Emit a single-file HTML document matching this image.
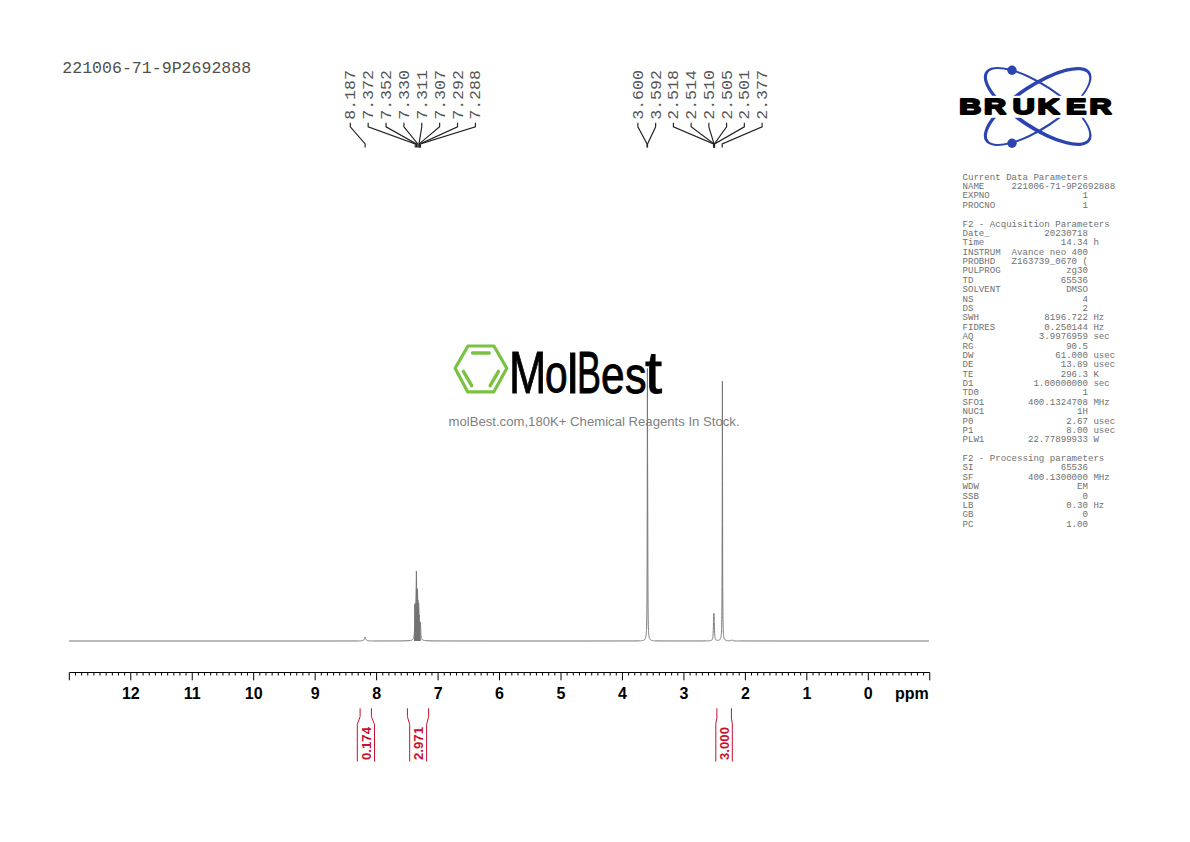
<!DOCTYPE html>
<html><head><meta charset="utf-8"><title>221006-71-9P2692888</title>
<style>
html,body{margin:0;padding:0;background:#fff;width:1190px;height:842px;overflow:hidden}
svg{display:block;position:absolute;left:0;top:0}
.mono{font-family:"Liberation Mono","DejaVu Sans Mono",monospace}
.sans{font-family:"Liberation Sans",Arial,sans-serif}
.mb{position:absolute;left:0;top:0;font-family:"Liberation Sans",Arial,sans-serif;color:#000;white-space:nowrap}
.mb span{position:absolute;display:block;line-height:1;transform-origin:0 0;-webkit-text-stroke:0.9px #000}
</style></head><body>
<svg width="1190" height="842" viewBox="0 0 1190 842">

<text class="mono" x="62.3" y="72.6" font-size="16.57" fill="#505050">221006-71-9P2692888</text>
<text class="mono" transform="translate(355.30,119.8) rotate(-90) scale(1,0.91)" font-size="16.6" fill="#555">8.187</text>
<path d="M350.30 122.7V126.8L365.13 143.9V147.4" fill="none" stroke="#222" stroke-width="1.15"/>
<text class="mono" transform="translate(373.17,119.8) rotate(-90) scale(1,0.91)" font-size="16.6" fill="#555">7.372</text>
<path d="M368.17 122.7V126.8L415.22 143.9V147.4" fill="none" stroke="#222" stroke-width="1.15"/>
<text class="mono" transform="translate(391.04,119.8) rotate(-90) scale(1,0.91)" font-size="16.6" fill="#555">7.352</text>
<path d="M386.04 122.7V126.8L416.45 143.9V147.4" fill="none" stroke="#222" stroke-width="1.15"/>
<text class="mono" transform="translate(408.91,119.8) rotate(-90) scale(1,0.91)" font-size="16.6" fill="#555">7.330</text>
<path d="M403.91 122.7V126.8L417.80 143.9V147.4" fill="none" stroke="#222" stroke-width="1.15"/>
<text class="mono" transform="translate(426.78,119.8) rotate(-90) scale(1,0.91)" font-size="16.6" fill="#555">7.311</text>
<path d="M421.78 122.7V126.8L418.97 143.9V147.4" fill="none" stroke="#222" stroke-width="1.15"/>
<text class="mono" transform="translate(444.65,119.8) rotate(-90) scale(1,0.91)" font-size="16.6" fill="#555">7.307</text>
<path d="M439.65 122.7V126.8L419.21 143.9V147.4" fill="none" stroke="#222" stroke-width="1.15"/>
<text class="mono" transform="translate(462.52,119.8) rotate(-90) scale(1,0.91)" font-size="16.6" fill="#555">7.292</text>
<path d="M457.52 122.7V126.8L420.13 143.9V147.4" fill="none" stroke="#222" stroke-width="1.15"/>
<text class="mono" transform="translate(480.39,119.8) rotate(-90) scale(1,0.91)" font-size="16.6" fill="#555">7.288</text>
<path d="M475.39 122.7V126.8L420.38 143.9V147.4" fill="none" stroke="#222" stroke-width="1.15"/>
<text class="mono" transform="translate(642.90,119.8) rotate(-90) scale(1,0.91)" font-size="16.6" fill="#555">3.600</text>
<path d="M637.90 122.7V126.8L647.04 143.9V147.4" fill="none" stroke="#222" stroke-width="1.15"/>
<text class="mono" transform="translate(660.64,119.8) rotate(-90) scale(1,0.91)" font-size="16.6" fill="#555">3.592</text>
<path d="M655.64 122.7V126.8L647.54 143.9V147.4" fill="none" stroke="#222" stroke-width="1.15"/>
<text class="mono" transform="translate(678.38,119.8) rotate(-90) scale(1,0.91)" font-size="16.6" fill="#555">2.518</text>
<path d="M673.38 122.7V126.8L713.54 143.9V147.4" fill="none" stroke="#222" stroke-width="1.15"/>
<text class="mono" transform="translate(696.12,119.8) rotate(-90) scale(1,0.91)" font-size="16.6" fill="#555">2.514</text>
<path d="M691.12 122.7V126.8L713.79 143.9V147.4" fill="none" stroke="#222" stroke-width="1.15"/>
<text class="mono" transform="translate(713.86,119.8) rotate(-90) scale(1,0.91)" font-size="16.6" fill="#555">2.510</text>
<path d="M708.86 122.7V126.8L714.04 143.9V147.4" fill="none" stroke="#222" stroke-width="1.15"/>
<text class="mono" transform="translate(731.60,119.8) rotate(-90) scale(1,0.91)" font-size="16.6" fill="#555">2.505</text>
<path d="M726.60 122.7V126.8L714.34 143.9V147.4" fill="none" stroke="#222" stroke-width="1.15"/>
<text class="mono" transform="translate(749.34,119.8) rotate(-90) scale(1,0.91)" font-size="16.6" fill="#555">2.501</text>
<path d="M744.34 122.7V126.8L714.59 143.9V147.4" fill="none" stroke="#222" stroke-width="1.15"/>
<text class="mono" transform="translate(767.08,119.8) rotate(-90) scale(1,0.91)" font-size="16.6" fill="#555">2.377</text>
<path d="M762.08 122.7V126.8L722.21 143.9V147.4" fill="none" stroke="#222" stroke-width="1.15"/>
<polygon points="414.0,641 414.3,604 415.6,603 415.9,588.5 416.2,571.2 416.6,571.2 416.9,588 418.0,589 418.3,603.1 419.1,603.5 419.4,622 420.4,622.2 420.8,641" fill="#737373"/>
<polyline points="69.00,641.00 73.00,641.00 77.00,641.00 81.00,641.00 85.00,641.00 89.00,641.00 93.00,641.00 97.00,641.00 101.00,641.00 105.00,641.00 109.00,641.00 113.00,641.00 117.00,641.00 121.00,641.00 125.00,641.00 129.00,641.00 133.00,641.00 137.00,641.00 141.00,641.00 145.00,641.00 149.00,641.00 153.00,641.00 157.00,641.00 161.00,641.00 165.00,641.00 169.00,641.00 173.00,641.00 177.00,641.00 181.00,641.00 185.00,641.00 189.00,641.00 193.00,641.00 197.00,641.00 201.00,641.00 205.00,641.00 209.00,641.00 213.00,641.00 217.00,641.00 221.00,641.00 225.00,641.00 229.00,641.00 233.00,641.00 237.00,641.00 241.00,641.00 245.00,641.00 249.00,641.00 253.00,641.00 257.00,641.00 261.00,641.00 265.00,641.00 269.00,641.00 273.00,641.00 277.00,641.00 281.00,641.00 285.00,641.00 289.00,641.00 293.00,641.00 297.00,641.00 301.00,641.00 305.00,641.00 309.00,641.00 313.00,641.00 317.00,641.00 321.00,641.00 325.00,641.00 329.00,641.00 333.00,640.99 337.00,640.99 341.00,640.99 345.00,640.99 349.00,640.99 353.00,640.98 357.00,640.96 357.50,640.96 357.55,640.96 357.60,640.96 357.65,640.96 357.70,640.96 357.75,640.95 357.80,640.95 357.85,640.95 357.90,640.95 357.95,640.95 358.00,640.95 358.05,640.95 358.10,640.95 358.15,640.95 358.20,640.95 358.25,640.95 358.30,640.95 358.35,640.95 358.40,640.95 358.45,640.95 358.50,640.95 358.55,640.94 358.60,640.94 358.65,640.94 358.70,640.94 358.75,640.94 358.80,640.94 358.85,640.94 358.90,640.94 358.95,640.94 359.00,640.94 359.05,640.94 359.10,640.94 359.15,640.93 359.20,640.93 359.25,640.93 359.30,640.93 359.35,640.93 359.40,640.93 359.45,640.93 359.50,640.93 359.55,640.93 359.60,640.92 359.65,640.92 359.70,640.92 359.75,640.92 359.80,640.92 359.85,640.92 359.90,640.92 359.95,640.91 360.00,640.91 360.05,640.91 360.10,640.91 360.15,640.91 360.20,640.91 360.25,640.90 360.30,640.90 360.35,640.90 360.40,640.90 360.45,640.90 360.50,640.89 360.55,640.89 360.60,640.89 360.65,640.89 360.70,640.89 360.75,640.88 360.80,640.88 360.85,640.88 360.90,640.88 360.95,640.87 361.00,640.87 361.05,640.87 361.10,640.86 361.15,640.86 361.20,640.86 361.25,640.85 361.30,640.85 361.35,640.85 361.40,640.84 361.45,640.84 361.50,640.83 361.55,640.83 361.60,640.82 361.65,640.82 361.70,640.81 361.75,640.81 361.80,640.80 361.85,640.80 361.90,640.79 361.95,640.79 362.00,640.78 362.05,640.77 362.10,640.77 362.15,640.76 362.20,640.75 362.25,640.74 362.30,640.73 362.35,640.72 362.40,640.72 362.45,640.71 362.50,640.69 362.55,640.68 362.60,640.67 362.65,640.66 362.70,640.65 362.75,640.63 362.80,640.62 362.85,640.60 362.90,640.59 362.95,640.57 363.00,640.55 363.05,640.53 363.10,640.51 363.15,640.48 363.20,640.46 363.25,640.43 363.30,640.41 363.35,640.38 363.40,640.34 363.45,640.31 363.50,640.27 363.55,640.23 363.60,640.19 363.65,640.14 363.70,640.09 363.75,640.04 363.80,639.98 363.85,639.91 363.90,639.84 363.95,639.76 364.00,639.68 364.05,639.59 364.10,639.49 364.15,639.39 364.20,639.27 364.25,639.15 364.30,639.01 364.35,638.87 364.40,638.71 364.45,638.55 364.50,638.38 364.55,638.20 364.60,638.02 364.65,637.83 364.70,637.66 364.75,637.49 364.80,637.34 364.85,637.21 364.90,637.10 364.95,637.03 365.00,637.00 365.05,637.00 365.10,637.04 365.15,637.12 365.20,637.22 365.25,637.34 365.30,637.47 365.35,637.62 365.40,637.77 365.45,637.92 365.50,638.06 365.55,638.20 365.60,638.33 365.65,638.46 365.70,638.58 365.75,638.69 365.80,638.80 365.85,638.90 365.90,639.00 365.95,639.10 366.00,639.19 366.05,639.29 366.10,639.38 366.15,639.47 366.20,639.55 366.25,639.64 366.30,639.71 366.35,639.79 366.40,639.86 366.45,639.93 366.50,639.99 366.55,640.05 366.60,640.10 366.65,640.15 366.70,640.20 366.75,640.24 366.80,640.28 366.85,640.32 366.90,640.35 366.95,640.39 367.00,640.42 367.05,640.44 367.10,640.47 367.15,640.49 367.20,640.52 367.25,640.54 367.30,640.56 367.35,640.58 367.40,640.59 367.45,640.61 367.50,640.63 367.55,640.64 367.60,640.65 367.65,640.67 367.70,640.68 367.75,640.69 367.80,640.70 367.85,640.71 367.90,640.72 367.95,640.73 368.00,640.74 368.05,640.75 368.10,640.76 368.15,640.76 368.20,640.77 368.25,640.78 368.30,640.78 368.35,640.79 368.40,640.80 368.45,640.80 368.50,640.81 368.55,640.81 368.60,640.82 368.65,640.82 368.70,640.83 368.75,640.83 368.80,640.84 368.85,640.84 368.90,640.84 368.95,640.85 369.00,640.85 369.05,640.85 369.10,640.86 369.15,640.86 369.20,640.86 369.25,640.87 369.30,640.87 369.35,640.87 369.40,640.88 369.45,640.88 369.50,640.88 369.55,640.88 369.60,640.89 369.65,640.89 369.70,640.89 369.75,640.89 369.80,640.89 369.85,640.90 369.90,640.90 369.95,640.90 370.00,640.90 370.05,640.90 370.10,640.90 370.15,640.91 370.20,640.91 370.25,640.91 370.30,640.91 370.35,640.91 370.40,640.91 370.45,640.92 370.50,640.92 370.55,640.92 370.60,640.92 370.65,640.92 370.70,640.92 370.75,640.92 370.80,640.92 370.85,640.93 370.90,640.93 370.95,640.93 371.00,640.93 371.05,640.93 371.10,640.93 371.15,640.93 371.20,640.93 371.25,640.93 371.30,640.93 371.35,640.93 371.40,640.94 371.45,640.94 371.50,640.94 371.55,640.94 371.60,640.94 371.65,640.94 371.70,640.94 371.75,640.94 371.80,640.94 371.85,640.94 371.90,640.94 371.95,640.94 372.00,640.94 372.05,640.95 372.10,640.95 372.15,640.95 372.20,640.95 372.25,640.95 372.30,640.95 372.35,640.95 372.40,640.95 372.45,640.95 372.50,640.95 372.55,640.95 372.60,640.95 372.65,640.95 372.70,640.95 372.75,640.95 372.80,640.95 372.85,640.95 372.90,640.95 372.95,640.95 373.00,640.95 373.05,640.96 373.10,640.96 373.15,640.96 373.20,640.96 373.25,640.96 373.30,640.96 373.35,640.96 373.40,640.96 373.45,640.96 377.00,640.97 381.00,640.97 385.00,640.97 389.00,640.97 393.00,640.96 397.00,640.94 401.00,640.91 405.00,640.85 409.00,640.65 410.00,640.54 410.05,640.53 410.10,640.52 410.15,640.51 410.20,640.51 410.25,640.50 410.30,640.49 410.35,640.48 410.40,640.47 410.45,640.46 410.50,640.45 410.55,640.44 410.60,640.43 410.65,640.42 410.70,640.41 410.75,640.40 410.80,640.39 410.85,640.38 410.90,640.37 410.95,640.36 411.00,640.35 411.05,640.33 411.10,640.32 411.15,640.31 411.20,640.29 411.25,640.28 411.30,640.26 411.35,640.25 411.40,640.23 411.45,640.22 411.50,640.20 411.55,640.18 411.60,640.17 411.65,640.15 411.70,640.13 411.75,640.11 411.80,640.09 411.85,640.07 411.90,640.04 411.95,640.02 412.00,640.00 412.05,639.97 412.10,639.95 412.15,639.92 412.20,639.89 412.25,639.86 412.30,639.83 412.35,639.80 412.40,639.77 412.45,639.73 412.50,639.69 412.55,639.66 412.60,639.62 412.65,639.57 412.70,639.53 412.75,639.48 412.80,639.43 412.85,639.38 412.90,639.33 412.95,639.27 413.00,639.21 413.05,639.14 413.10,639.07 413.15,639.00 413.20,638.92 413.25,638.84 413.30,638.75 413.35,638.66 413.40,638.56 413.45,638.45 413.50,638.33 413.55,638.20 413.60,638.06 413.65,637.91 413.70,637.75 413.75,637.57 413.80,637.38 413.85,637.16 413.90,636.93 413.95,636.66 414.00,636.37 414.05,636.04 414.10,635.67 414.15,635.25 414.20,634.77 414.25,634.23 414.30,633.60 414.35,632.86 414.40,632.00 414.45,630.99 414.50,629.79 414.55,628.35 414.60,626.63 414.65,624.56 414.70,622.10 414.75,619.22 414.80,615.95 414.85,612.47 414.90,609.14 414.95,606.48 415.00,605.00 415.05,604.90 415.10,605.94 415.15,607.54 415.20,609.14 415.25,610.30 415.30,610.82 415.35,610.63 415.40,609.77 415.45,608.41 415.50,606.88 415.55,605.60 415.60,605.00 415.65,605.26 415.70,606.20 415.75,607.41 415.80,608.46 415.85,609.03 415.90,608.92 415.95,608.01 416.00,606.22 416.05,603.48 416.10,599.71 416.15,594.91 416.20,589.22 416.25,583.04 416.30,577.16 416.35,572.77 416.40,571.00 416.45,572.32 416.50,576.25 416.55,581.62 416.60,587.28 416.65,592.38 416.70,596.50 416.75,599.49 416.80,601.33 416.85,602.05 416.90,601.70 416.95,600.35 417.00,598.16 417.05,595.41 417.10,592.65 417.15,590.61 417.20,590.00 417.25,591.13 417.30,593.72 417.35,597.05 417.40,600.40 417.45,603.27 417.50,605.38 417.55,606.61 417.60,606.96 417.65,606.46 417.70,605.23 417.75,603.50 417.80,601.69 417.85,600.34 417.90,600.00 417.95,600.90 418.00,602.81 418.05,605.23 418.10,607.60 418.15,609.54 418.20,610.84 418.25,611.40 418.30,611.21 418.35,610.28 418.40,608.72 418.45,606.75 418.50,604.77 418.55,603.34 418.60,603.00 418.65,603.98 418.70,606.07 418.75,608.74 418.80,611.45 418.85,613.83 418.90,615.67 418.95,616.91 419.00,617.53 419.05,617.57 419.10,617.13 419.15,616.34 419.20,615.49 419.25,614.93 419.30,615.00 419.35,615.86 419.40,617.39 419.45,619.27 419.50,621.17 419.55,622.87 419.60,624.25 419.65,625.26 419.70,625.92 419.75,626.21 419.80,626.17 419.85,625.80 419.90,625.14 419.95,624.27 420.00,623.33 420.05,622.51 420.10,622.00 420.15,621.87 420.20,622.03 420.25,622.27 420.30,622.43 420.35,622.44 420.40,622.40 420.45,622.51 420.50,623.00 420.55,623.99 420.60,625.40 420.65,627.03 420.70,628.68 420.75,630.20 420.80,631.54 420.85,632.69 420.90,633.65 420.95,634.45 421.00,635.13 421.05,635.70 421.10,636.18 421.15,636.59 421.20,636.95 421.25,637.25 421.30,637.52 421.35,637.76 421.40,637.97 421.45,638.15 421.50,638.32 421.55,638.46 421.60,638.60 421.65,638.72 421.70,638.83 421.75,638.93 421.80,639.03 421.85,639.11 421.90,639.19 421.95,639.27 422.00,639.33 422.05,639.40 422.10,639.46 422.15,639.51 422.20,639.56 422.25,639.61 422.30,639.66 422.35,639.70 422.40,639.74 422.45,639.78 422.50,639.82 422.55,639.85 422.60,639.89 422.65,639.92 422.70,639.95 422.75,639.98 422.80,640.00 422.85,640.03 422.90,640.06 422.95,640.08 423.00,640.10 423.05,640.12 423.10,640.14 423.15,640.16 423.20,640.18 423.25,640.20 423.30,640.22 423.35,640.24 423.40,640.25 423.45,640.27 423.50,640.29 423.55,640.30 423.60,640.32 423.65,640.33 423.70,640.34 423.75,640.36 423.80,640.37 423.85,640.38 423.90,640.39 423.95,640.40 424.00,640.41 424.05,640.43 424.10,640.44 424.15,640.45 424.20,640.46 424.25,640.47 424.30,640.47 424.35,640.48 424.40,640.49 424.45,640.50 424.50,640.51 424.55,640.52 424.60,640.53 424.65,640.53 424.70,640.54 424.75,640.55 424.80,640.56 424.85,640.56 424.90,640.57 424.95,640.58 425.00,640.58 425.05,640.59 425.10,640.59 425.15,640.60 425.20,640.61 425.25,640.61 425.30,640.62 425.35,640.62 425.40,640.63 425.45,640.63 425.50,640.64 425.55,640.64 425.60,640.65 425.65,640.65 425.70,640.66 425.75,640.66 425.80,640.67 425.85,640.67 425.90,640.68 425.95,640.68 429.00,640.83 433.00,640.91 437.00,640.94 441.00,640.96 445.00,640.97 449.00,640.98 453.00,640.98 457.00,640.99 461.00,640.99 465.00,640.99 469.00,640.99 473.00,640.99 477.00,640.99 481.00,640.99 485.00,640.99 489.00,641.00 493.00,641.00 497.00,641.00 501.00,641.00 505.00,641.00 509.00,641.00 513.00,641.00 517.00,641.00 521.00,641.00 525.00,641.00 529.00,641.00 533.00,641.00 537.00,641.00 541.00,641.00 545.00,641.00 549.00,641.00 553.00,641.00 557.00,641.00 561.00,641.00 565.00,641.00 569.00,641.00 573.00,641.00 577.00,641.00 581.00,641.00 585.00,641.00 589.00,641.00 593.00,640.99 597.00,640.99 601.00,640.99 605.00,640.99 609.00,640.99 613.00,640.99 617.00,640.99 621.00,640.98 625.00,640.98 629.00,640.97 633.00,640.95 637.00,640.90 639.30,640.84 639.35,640.83 639.40,640.83 639.45,640.83 639.50,640.83 639.55,640.83 639.60,640.82 639.65,640.82 639.70,640.82 639.75,640.82 639.80,640.81 639.85,640.81 639.90,640.81 639.95,640.81 640.00,640.80 640.05,640.80 640.10,640.80 640.15,640.80 640.20,640.79 640.25,640.79 640.30,640.79 640.35,640.78 640.40,640.78 640.45,640.78 640.50,640.78 640.55,640.77 640.60,640.77 640.65,640.77 640.70,640.76 640.75,640.76 640.80,640.75 640.85,640.75 640.90,640.75 640.95,640.74 641.00,640.74 641.05,640.74 641.10,640.73 641.15,640.73 641.20,640.72 641.25,640.72 641.30,640.71 641.35,640.71 641.40,640.70 641.45,640.70 641.50,640.69 641.55,640.69 641.60,640.68 641.65,640.68 641.70,640.67 641.75,640.67 641.80,640.66 641.85,640.66 641.90,640.65 641.95,640.64 642.00,640.64 642.05,640.63 642.10,640.62 642.15,640.62 642.20,640.61 642.25,640.60 642.30,640.59 642.35,640.59 642.40,640.58 642.45,640.57 642.50,640.56 642.55,640.55 642.60,640.54 642.65,640.53 642.70,640.52 642.75,640.51 642.80,640.50 642.85,640.49 642.90,640.48 642.95,640.47 643.00,640.46 643.05,640.44 643.10,640.43 643.15,640.42 643.20,640.40 643.25,640.39 643.30,640.38 643.35,640.36 643.40,640.35 643.45,640.33 643.50,640.31 643.55,640.29 643.60,640.28 643.65,640.26 643.70,640.24 643.75,640.22 643.80,640.20 643.85,640.17 643.90,640.15 643.95,640.13 644.00,640.10 644.05,640.07 644.10,640.05 644.15,640.02 644.20,639.99 644.25,639.96 644.30,639.92 644.35,639.89 644.40,639.85 644.45,639.81 644.50,639.77 644.55,639.73 644.60,639.69 644.65,639.64 644.70,639.59 644.75,639.54 644.80,639.48 644.85,639.42 644.90,639.36 644.95,639.30 645.00,639.23 645.05,639.15 645.10,639.07 645.15,638.99 645.20,638.90 645.25,638.81 645.30,638.70 645.35,638.59 645.40,638.48 645.45,638.35 645.50,638.21 645.55,638.07 645.60,637.91 645.65,637.74 645.70,637.55 645.75,637.35 645.80,637.12 645.85,636.88 645.90,636.61 645.95,636.32 646.00,636.00 646.05,635.64 646.10,635.24 646.15,634.80 646.20,634.30 646.25,633.74 646.30,633.11 646.35,632.39 646.40,631.57 646.45,630.62 646.50,629.53 646.55,628.25 646.60,626.75 646.65,624.97 646.70,622.84 646.75,620.27 646.80,617.11 646.85,613.18 646.90,608.24 646.95,601.91 647.00,593.65 647.05,582.67 647.10,567.82 647.15,547.43 647.20,519.36 647.25,481.71 647.30,435.60 647.35,391.08 647.40,368.50 647.45,380.01 647.50,412.23 647.55,443.84 647.60,464.99 647.65,477.80 647.70,491.00 647.75,510.90 647.80,534.86 647.85,557.05 647.90,574.80 647.95,588.19 648.00,598.16 648.05,605.65 648.10,611.37 648.15,615.81 648.20,619.33 648.25,622.15 648.30,624.46 648.35,626.36 648.40,627.95 648.45,629.29 648.50,630.43 648.55,631.42 648.60,632.27 648.65,633.01 648.70,633.66 648.75,634.23 648.80,634.74 648.85,635.20 648.90,635.60 648.95,635.97 649.00,636.29 649.05,636.59 649.10,636.86 649.15,637.11 649.20,637.33 649.25,637.54 649.30,637.72 649.35,637.90 649.40,638.06 649.45,638.21 649.50,638.34 649.55,638.47 649.60,638.59 649.65,638.70 649.70,638.80 649.75,638.90 649.80,638.99 649.85,639.07 649.90,639.15 649.95,639.22 650.00,639.29 650.05,639.36 650.10,639.42 650.15,639.48 650.20,639.53 650.25,639.59 650.30,639.64 650.35,639.68 650.40,639.73 650.45,639.77 650.50,639.81 650.55,639.85 650.60,639.89 650.65,639.92 650.70,639.95 650.75,639.99 650.80,640.02 650.85,640.04 650.90,640.07 650.95,640.10 651.00,640.12 651.05,640.15 651.10,640.17 651.15,640.19 651.20,640.22 651.25,640.24 651.30,640.26 651.35,640.28 651.40,640.29 651.45,640.31 651.50,640.33 651.55,640.34 651.60,640.36 651.65,640.38 651.70,640.39 651.75,640.40 651.80,640.42 651.85,640.43 651.90,640.44 651.95,640.46 652.00,640.47 652.05,640.48 652.10,640.49 652.15,640.50 652.20,640.51 652.25,640.52 652.30,640.53 652.35,640.54 652.40,640.55 652.45,640.56 652.50,640.57 652.55,640.58 652.60,640.58 652.65,640.59 652.70,640.60 652.75,640.61 652.80,640.61 652.85,640.62 652.90,640.63 652.95,640.64 653.00,640.64 653.05,640.65 653.10,640.65 653.15,640.66 653.20,640.67 653.25,640.67 653.30,640.68 653.35,640.68 653.40,640.69 653.45,640.69 653.50,640.70 653.55,640.70 653.60,640.71 653.65,640.71 653.70,640.72 653.75,640.72 653.80,640.73 653.85,640.73 653.90,640.73 653.95,640.74 654.00,640.74 654.05,640.75 654.10,640.75 654.15,640.75 654.20,640.76 654.25,640.76 654.30,640.76 654.35,640.77 654.40,640.77 654.45,640.77 654.50,640.78 654.55,640.78 654.60,640.78 654.65,640.79 654.70,640.79 654.75,640.79 654.80,640.79 654.85,640.80 654.90,640.80 654.95,640.80 655.00,640.81 655.05,640.81 655.10,640.81 655.15,640.81 655.20,640.82 655.25,640.82 657.00,640.88 661.00,640.94 665.00,640.96 669.00,640.97 673.00,640.98 677.00,640.98 681.00,640.98 685.00,640.98 689.00,640.98 693.00,640.98 697.00,640.97 701.00,640.96 705.00,640.92 706.00,640.91 706.05,640.91 706.10,640.90 706.15,640.90 706.20,640.90 706.25,640.90 706.30,640.90 706.35,640.90 706.40,640.90 706.45,640.90 706.50,640.90 706.55,640.90 706.60,640.89 706.65,640.89 706.70,640.89 706.75,640.89 706.80,640.89 706.85,640.89 706.90,640.89 706.95,640.89 707.00,640.88 707.05,640.88 707.10,640.88 707.15,640.88 707.20,640.88 707.25,640.88 707.30,640.88 707.35,640.87 707.40,640.87 707.45,640.87 707.50,640.87 707.55,640.87 707.60,640.87 707.65,640.86 707.70,640.86 707.75,640.86 707.80,640.86 707.85,640.86 707.90,640.86 707.95,640.85 708.00,640.85 708.05,640.85 708.10,640.85 708.15,640.85 708.20,640.84 708.25,640.84 708.30,640.84 708.35,640.84 708.40,640.83 708.45,640.83 708.50,640.83 708.55,640.83 708.60,640.82 708.65,640.82 708.70,640.82 708.75,640.81 708.80,640.81 708.85,640.81 708.90,640.80 708.95,640.80 709.00,640.80 709.05,640.79 709.10,640.79 709.15,640.79 709.20,640.78 709.25,640.78 709.30,640.78 709.35,640.77 709.40,640.77 709.45,640.76 709.50,640.76 709.55,640.75 709.60,640.75 709.65,640.74 709.70,640.74 709.75,640.73 709.80,640.73 709.85,640.72 709.90,640.72 709.95,640.71 710.00,640.70 710.05,640.70 710.10,640.69 710.15,640.68 710.20,640.67 710.25,640.67 710.30,640.66 710.35,640.65 710.40,640.64 710.45,640.63 710.50,640.62 710.55,640.61 710.60,640.60 710.65,640.59 710.70,640.58 710.75,640.57 710.80,640.55 710.85,640.54 710.90,640.53 710.95,640.51 711.00,640.50 711.05,640.48 711.10,640.46 711.15,640.44 711.20,640.43 711.25,640.40 711.30,640.38 711.35,640.36 711.40,640.34 711.45,640.31 711.50,640.28 711.55,640.26 711.60,640.22 711.65,640.19 711.70,640.16 711.75,640.12 711.80,640.08 711.85,640.03 711.90,639.99 711.95,639.94 712.00,639.88 712.05,639.82 712.10,639.76 712.15,639.68 712.20,639.61 712.25,639.52 712.30,639.43 712.35,639.32 712.40,639.21 712.45,639.08 712.50,638.94 712.55,638.78 712.60,638.60 712.65,638.40 712.70,638.16 712.75,637.90 712.80,637.59 712.85,637.24 712.90,636.83 712.95,636.34 713.00,635.77 713.05,635.09 713.10,634.28 713.15,633.31 713.20,632.16 713.25,630.79 713.30,629.23 713.35,627.49 713.40,625.70 713.45,624.00 713.50,622.54 713.55,621.36 713.60,620.33 713.65,619.26 713.70,617.97 713.75,616.48 713.80,614.96 713.85,613.79 713.90,613.34 713.95,613.79 714.00,614.96 714.05,616.47 714.10,617.97 714.15,619.25 714.20,620.32 714.25,621.34 714.30,622.52 714.35,623.98 714.40,625.68 714.45,627.47 714.50,629.20 714.55,630.76 714.60,632.12 714.65,633.27 714.70,634.24 714.75,635.05 714.80,635.72 714.85,636.29 714.90,636.77 714.95,637.18 715.00,637.53 715.05,637.83 715.10,638.10 715.15,638.33 715.20,638.53 715.25,638.70 715.30,638.86 715.35,639.00 715.40,639.12 715.45,639.23 715.50,639.33 715.55,639.42 715.60,639.51 715.65,639.58 715.70,639.65 715.75,639.71 715.80,639.77 715.85,639.82 715.90,639.86 715.95,639.91 716.00,639.95 716.05,639.98 716.10,640.02 716.15,640.05 716.20,640.08 716.25,640.10 716.30,640.13 716.35,640.15 716.40,640.17 716.45,640.19 716.50,640.21 716.55,640.23 716.60,640.24 716.65,640.26 716.70,640.27 716.75,640.28 716.80,640.29 716.85,640.30 716.90,640.31 716.95,640.32 717.00,640.33 717.05,640.33 717.10,640.34 717.15,640.34 717.20,640.35 717.25,640.35 717.30,640.36 717.35,640.36 717.40,640.36 717.45,640.36 717.50,640.36 717.55,640.36 717.60,640.36 717.65,640.36 717.70,640.36 717.75,640.36 717.80,640.36 717.85,640.36 717.90,640.35 717.95,640.35 718.00,640.35 718.05,640.34 718.10,640.33 718.15,640.33 718.20,640.32 718.25,640.32 718.30,640.31 718.35,640.30 718.40,640.29 718.45,640.28 718.50,640.27 718.55,640.26 718.60,640.25 718.65,640.24 718.70,640.22 718.75,640.21 718.80,640.20 718.85,640.18 718.90,640.16 718.95,640.15 719.00,640.13 719.05,640.11 719.10,640.09 719.15,640.07 719.20,640.05 719.25,640.02 719.30,640.00 719.35,639.97 719.40,639.94 719.45,639.91 719.50,639.88 719.55,639.85 719.60,639.81 719.65,639.78 719.70,639.74 719.75,639.70 719.80,639.65 719.85,639.60 719.90,639.55 719.95,639.50 720.00,639.44 720.05,639.38 720.10,639.32 720.15,639.25 720.20,639.18 720.25,639.10 720.30,639.01 720.35,638.92 720.40,638.82 720.45,638.71 720.50,638.60 720.55,638.48 720.60,638.34 720.65,638.19 720.70,638.03 720.75,637.86 720.80,637.67 720.85,637.46 720.90,637.23 720.95,636.98 721.00,636.70 721.05,636.38 721.10,636.03 721.15,635.64 721.20,635.21 721.25,634.71 721.30,634.15 721.35,633.51 721.40,632.77 721.45,631.92 721.50,630.93 721.55,629.78 721.60,628.41 721.65,626.78 721.70,624.81 721.75,622.42 721.80,619.47 721.85,615.79 721.90,611.11 721.95,605.08 722.00,597.16 722.05,586.57 722.10,572.13 722.15,552.19 722.20,524.61 722.25,487.53 722.30,442.30 722.35,399.62 722.40,381.00 722.45,399.62 722.50,442.31 722.55,487.53 722.60,524.62 722.65,552.20 722.70,572.14 722.75,586.58 722.80,597.17 722.85,605.09 722.90,611.12 722.95,615.80 723.00,619.49 723.05,622.44 723.10,624.83 723.15,626.79 723.20,628.43 723.25,629.79 723.30,630.95 723.35,631.94 723.40,632.79 723.45,633.53 723.50,634.17 723.55,634.74 723.60,635.23 723.65,635.67 723.70,636.06 723.75,636.41 723.80,636.73 723.85,637.01 723.90,637.27 723.95,637.50 724.00,637.71 724.05,637.90 724.10,638.07 724.15,638.24 724.20,638.38 724.25,638.52 724.30,638.65 724.35,638.76 724.40,638.87 724.45,638.97 724.50,639.06 724.55,639.15 724.60,639.23 724.65,639.31 724.70,639.38 724.75,639.44 724.80,639.51 724.85,639.56 724.90,639.62 724.95,639.67 725.00,639.72 725.05,639.77 725.10,639.81 725.15,639.85 725.20,639.89 725.25,639.93 725.30,639.96 725.35,640.00 725.40,640.03 725.45,640.06 725.50,640.09 725.55,640.12 725.60,640.14 725.65,640.17 725.70,640.19 725.75,640.21 725.80,640.24 725.85,640.26 725.90,640.28 725.95,640.30 726.00,640.31 726.05,640.33 726.10,640.35 726.15,640.37 726.20,640.38 726.25,640.40 726.30,640.41 726.35,640.42 726.40,640.44 726.45,640.45 726.50,640.46 726.55,640.47 726.60,640.49 726.65,640.50 726.70,640.51 726.75,640.52 726.80,640.53 726.85,640.54 726.90,640.55 726.95,640.56 727.00,640.56 727.05,640.57 727.10,640.58 727.15,640.59 727.20,640.60 727.25,640.60 727.30,640.61 727.35,640.62 727.40,640.62 727.45,640.63 727.50,640.64 727.55,640.64 727.60,640.65 727.65,640.65 727.70,640.66 727.75,640.66 727.80,640.67 727.85,640.67 727.90,640.68 727.95,640.68 728.00,640.69 728.05,640.69 728.10,640.70 728.15,640.70 728.20,640.70 728.25,640.71 728.30,640.71 728.35,640.71 728.40,640.72 728.45,640.72 728.50,640.72 728.55,640.73 728.60,640.73 728.65,640.73 728.70,640.73 728.75,640.74 728.80,640.74 728.85,640.74 728.90,640.74 728.95,640.75 729.00,640.75 729.05,640.75 729.10,640.75 729.15,640.75 729.20,640.75 729.25,640.75 729.30,640.75 729.35,640.76 729.40,640.76 729.45,640.76 729.50,640.76 729.55,640.76 729.60,640.76 729.65,640.76 729.70,640.76 729.75,640.76 729.80,640.75 729.85,640.75 729.90,640.75 729.95,640.75 730.00,640.75 730.05,640.75 730.10,640.74 730.15,640.74 730.20,640.74 730.25,640.73 730.30,640.73 730.35,640.72 730.40,640.72 730.45,640.71 730.50,640.71 730.55,640.70 730.60,640.69 730.65,640.68 730.70,640.67 730.75,640.66 730.80,640.65 730.85,640.63 730.90,640.62 730.95,640.60 731.00,640.58 731.05,640.56 731.10,640.54 731.15,640.51 731.20,640.48 731.25,640.45 731.30,640.42 731.35,640.38 731.40,640.33 731.45,640.29 731.50,640.24 731.55,640.18 731.60,640.13 731.65,640.07 731.70,640.01 731.75,639.96 731.80,639.90 731.85,639.86 731.90,639.83 731.95,639.81 732.00,639.80 732.05,639.81 732.10,639.83 732.15,639.87 732.20,639.91 732.25,639.97 732.30,640.02 732.35,640.08 732.40,640.14 732.45,640.20 732.50,640.26 732.55,640.31 732.60,640.36 732.65,640.40 732.70,640.44 732.75,640.48 732.80,640.52 732.85,640.55 732.90,640.57 732.95,640.60 733.00,640.62 733.05,640.64 733.10,640.66 733.15,640.68 733.20,640.70 733.25,640.71 733.30,640.73 733.35,640.74 733.40,640.75 733.45,640.76 733.50,640.77 733.55,640.78 733.60,640.79 733.65,640.79 733.70,640.80 733.75,640.81 733.80,640.81 733.85,640.82 733.90,640.83 733.95,640.83 734.00,640.84 734.05,640.84 734.10,640.85 734.15,640.85 734.20,640.85 734.25,640.86 734.30,640.86 734.35,640.86 734.40,640.87 734.45,640.87 734.50,640.87 734.55,640.88 734.60,640.88 734.65,640.88 734.70,640.88 734.75,640.89 734.80,640.89 734.85,640.89 734.90,640.89 734.95,640.89 735.00,640.90 735.05,640.90 735.10,640.90 735.15,640.90 735.20,640.90 735.25,640.90 735.30,640.90 735.35,640.91 735.40,640.91 735.45,640.91 735.50,640.91 735.55,640.91 735.60,640.91 735.65,640.91 735.70,640.92 735.75,640.92 735.80,640.92 735.85,640.92 735.90,640.92 735.95,640.92 736.00,640.92 736.05,640.92 736.10,640.92 736.15,640.92 736.20,640.93 736.25,640.93 736.30,640.93 736.35,640.93 736.40,640.93 736.45,640.93 736.50,640.93 736.55,640.93 736.60,640.93 736.65,640.93 736.70,640.93 736.75,640.93 736.80,640.93 736.85,640.93 736.90,640.94 736.95,640.94 737.00,640.94 737.05,640.94 737.10,640.94 737.15,640.94 737.20,640.94 737.25,640.94 737.30,640.94 737.35,640.94 737.40,640.94 737.45,640.94 737.50,640.94 737.55,640.94 737.60,640.94 737.65,640.94 737.70,640.94 737.75,640.94 737.80,640.95 737.85,640.95 737.90,640.95 737.95,640.95 738.00,640.95 738.05,640.95 738.10,640.95 738.15,640.95 738.20,640.95 738.25,640.95 738.30,640.95 738.35,640.95 738.40,640.95 738.45,640.95 738.50,640.95 738.55,640.95 738.60,640.95 738.65,640.95 738.70,640.95 738.75,640.95 738.80,640.95 738.85,640.95 738.90,640.95 738.95,640.95 739.00,640.95 739.05,640.95 739.10,640.95 739.15,640.96 739.20,640.96 739.25,640.96 739.30,640.96 739.35,640.96 739.40,640.96 739.45,640.96 739.50,640.96 739.55,640.96 739.60,640.96 739.65,640.96 739.70,640.96 739.75,640.96 739.80,640.96 739.85,640.96 739.90,640.96 739.95,640.96 741.00,640.96 745.00,640.98 749.00,640.98 753.00,640.99 757.00,640.99 761.00,640.99 765.00,640.99 769.00,640.99 773.00,640.99 777.00,641.00 781.00,641.00 785.00,641.00 789.00,641.00 793.00,641.00 797.00,641.00 801.00,641.00 805.00,641.00 809.00,641.00 813.00,641.00 817.00,641.00 821.00,641.00 825.00,641.00 829.00,641.00 833.00,641.00 837.00,641.00 841.00,641.00 845.00,641.00 849.00,641.00 853.00,641.00 857.00,641.00 861.00,641.00 865.00,641.00 869.00,641.00 873.00,641.00 877.00,641.00 881.00,641.00 885.00,641.00 889.00,641.00 893.00,641.00 897.00,641.00 901.00,641.00 905.00,641.00 909.00,641.00 913.00,641.00 917.00,641.00 921.00,641.00 925.00,641.00 929.00,641.00" fill="none" stroke="#777" stroke-width="1"/>
<path d="M69.3 672.5H929.8 M929.76 672.5V680.3 M923.61 672.5V675.5 M917.47 672.5V675.5 M911.32 672.5V675.5 M905.18 672.5V675.5 M899.03 672.5V675.5 M892.88 672.5V675.5 M886.74 672.5V675.5 M880.59 672.5V675.5 M874.45 672.5V675.5 M868.30 672.5V680.3 M862.15 672.5V675.5 M856.01 672.5V675.5 M849.86 672.5V675.5 M843.72 672.5V675.5 M837.57 672.5V675.5 M831.42 672.5V675.5 M825.28 672.5V675.5 M819.13 672.5V675.5 M812.99 672.5V675.5 M806.84 672.5V680.3 M800.69 672.5V675.5 M794.55 672.5V675.5 M788.40 672.5V675.5 M782.26 672.5V675.5 M776.11 672.5V675.5 M769.96 672.5V675.5 M763.82 672.5V675.5 M757.67 672.5V675.5 M751.53 672.5V675.5 M745.38 672.5V680.3 M739.23 672.5V675.5 M733.09 672.5V675.5 M726.94 672.5V675.5 M720.80 672.5V675.5 M714.65 672.5V675.5 M708.50 672.5V675.5 M702.36 672.5V675.5 M696.21 672.5V675.5 M690.07 672.5V675.5 M683.92 672.5V680.3 M677.77 672.5V675.5 M671.63 672.5V675.5 M665.48 672.5V675.5 M659.34 672.5V675.5 M653.19 672.5V675.5 M647.04 672.5V675.5 M640.90 672.5V675.5 M634.75 672.5V675.5 M628.61 672.5V675.5 M622.46 672.5V680.3 M616.31 672.5V675.5 M610.17 672.5V675.5 M604.02 672.5V675.5 M597.88 672.5V675.5 M591.73 672.5V675.5 M585.58 672.5V675.5 M579.44 672.5V675.5 M573.29 672.5V675.5 M567.15 672.5V675.5 M561.00 672.5V680.3 M554.85 672.5V675.5 M548.71 672.5V675.5 M542.56 672.5V675.5 M536.42 672.5V675.5 M530.27 672.5V675.5 M524.12 672.5V675.5 M517.98 672.5V675.5 M511.83 672.5V675.5 M505.69 672.5V675.5 M499.54 672.5V680.3 M493.39 672.5V675.5 M487.25 672.5V675.5 M481.10 672.5V675.5 M474.96 672.5V675.5 M468.81 672.5V675.5 M462.66 672.5V675.5 M456.52 672.5V675.5 M450.37 672.5V675.5 M444.23 672.5V675.5 M438.08 672.5V680.3 M431.93 672.5V675.5 M425.79 672.5V675.5 M419.64 672.5V675.5 M413.50 672.5V675.5 M407.35 672.5V675.5 M401.20 672.5V675.5 M395.06 672.5V675.5 M388.91 672.5V675.5 M382.77 672.5V675.5 M376.62 672.5V680.3 M370.47 672.5V675.5 M364.33 672.5V675.5 M358.18 672.5V675.5 M352.04 672.5V675.5 M345.89 672.5V675.5 M339.74 672.5V675.5 M333.60 672.5V675.5 M327.45 672.5V675.5 M321.31 672.5V675.5 M315.16 672.5V680.3 M309.01 672.5V675.5 M302.87 672.5V675.5 M296.72 672.5V675.5 M290.58 672.5V675.5 M284.43 672.5V675.5 M278.28 672.5V675.5 M272.14 672.5V675.5 M265.99 672.5V675.5 M259.85 672.5V675.5 M253.70 672.5V680.3 M247.55 672.5V675.5 M241.41 672.5V675.5 M235.26 672.5V675.5 M229.12 672.5V675.5 M222.97 672.5V675.5 M216.82 672.5V675.5 M210.68 672.5V675.5 M204.53 672.5V675.5 M198.39 672.5V675.5 M192.24 672.5V680.3 M186.09 672.5V675.5 M179.95 672.5V675.5 M173.80 672.5V675.5 M167.66 672.5V675.5 M161.51 672.5V675.5 M155.36 672.5V675.5 M149.22 672.5V675.5 M143.07 672.5V675.5 M136.93 672.5V675.5 M130.78 672.5V680.3 M124.63 672.5V675.5 M118.49 672.5V675.5 M112.34 672.5V675.5 M106.20 672.5V675.5 M100.05 672.5V675.5 M93.90 672.5V675.5 M87.76 672.5V675.5 M81.61 672.5V675.5 M75.47 672.5V675.5 M69.32 672.5V680.3" fill="none" stroke="#000" stroke-width="1"/>
<text class="sans" x="868.30" y="698.6" font-size="16" font-weight="bold" text-anchor="middle" fill="#000">0</text>
<text class="sans" x="806.84" y="698.6" font-size="16" font-weight="bold" text-anchor="middle" fill="#000">1</text>
<text class="sans" x="745.38" y="698.6" font-size="16" font-weight="bold" text-anchor="middle" fill="#000">2</text>
<text class="sans" x="683.92" y="698.6" font-size="16" font-weight="bold" text-anchor="middle" fill="#000">3</text>
<text class="sans" x="622.46" y="698.6" font-size="16" font-weight="bold" text-anchor="middle" fill="#000">4</text>
<text class="sans" x="561.00" y="698.6" font-size="16" font-weight="bold" text-anchor="middle" fill="#000">5</text>
<text class="sans" x="499.54" y="698.6" font-size="16" font-weight="bold" text-anchor="middle" fill="#000">6</text>
<text class="sans" x="438.08" y="698.6" font-size="16" font-weight="bold" text-anchor="middle" fill="#000">7</text>
<text class="sans" x="376.62" y="698.6" font-size="16" font-weight="bold" text-anchor="middle" fill="#000">8</text>
<text class="sans" x="315.16" y="698.6" font-size="16" font-weight="bold" text-anchor="middle" fill="#000">9</text>
<text class="sans" x="253.70" y="698.6" font-size="16" font-weight="bold" text-anchor="middle" fill="#000">10</text>
<text class="sans" x="192.24" y="698.6" font-size="16" font-weight="bold" text-anchor="middle" fill="#000">11</text>
<text class="sans" x="130.78" y="698.6" font-size="16" font-weight="bold" text-anchor="middle" fill="#000">12</text>
<text class="sans" x="895" y="698.6" font-size="16" font-weight="bold" fill="#000">ppm</text>
<path d="M360.1 708.3V716.6L357.3 724.4V761.5M371.4 708.3V716.6L374.5 724.4V761.5" fill="none" stroke="#c8102e" stroke-width="1"/>
<text class="sans" transform="translate(370.8,760) rotate(-90)" font-size="13.2" font-weight="bold" fill="#c8102e">0.174</text>
<path d="M407.4 708.3V716.6L409.7 724.4V761.5M428.6 708.3V716.6L426.6 724.4V761.5" fill="none" stroke="#c8102e" stroke-width="1"/>
<text class="sans" transform="translate(423.2,760) rotate(-90)" font-size="13.2" font-weight="bold" fill="#c8102e">2.971</text>
<path d="M716.9 708.3V718.0L715.8 723.5V761.5M731.4 708.3V718.0L732.3 723.5V761.5" fill="none" stroke="#c8102e" stroke-width="1"/>
<text class="sans" transform="translate(729.1,760) rotate(-90)" font-size="13.2" font-weight="bold" fill="#c8102e">3.000</text>
<path d="M455.1 368.2L468.0 346.0H493.9L506.8 368.2L493.9 391.8H467.6Z" fill="none" stroke="#7ac142" stroke-width="3.2" stroke-linejoin="round"/>
<path d="M472.6 353H489.3M463.4 371.4L471.7 385.7M498.5 371.4L490.2 385.7" fill="none" stroke="#7ac142" stroke-width="3.4" stroke-linecap="round"/>
<text class="sans" x="448.5" y="425.7" font-size="13.15" fill="#808080">molBest.com,180K+ Chemical Reagents In Stock.</text>
<path transform="rotate(33.48 1037.65 106.47)" d="M974.86 106.47A62.79 22.65 0 1 0 1100.44 106.47A62.79 22.65 0 1 0 974.86 106.47ZM977.76 105.72A59.89 19.75 0 1 0 1097.54 105.72A59.89 19.75 0 1 0 977.76 105.72Z" fill="#2c44b0" fill-rule="evenodd"/>
<path transform="rotate(-33.48 1037.65 106.47)" d="M974.86 106.47A62.79 22.65 0 1 0 1100.44 106.47A62.79 22.65 0 1 0 974.86 106.47ZM977.76 107.22A59.89 19.75 0 1 0 1097.54 107.22A59.89 19.75 0 1 0 977.76 107.22Z" fill="#2c44b0" fill-rule="evenodd"/>
<circle cx="1012.0" cy="70.3" r="4.7" fill="#2c44b0"/><circle cx="1012.0" cy="143.2" r="4.7" fill="#2c44b0"/>
<rect x="957" y="95.8" width="160" height="22" fill="#fff"/>
<text class="sans" transform="scale(1.36,1)" x="705.31 723.62 744.65 762.88 783.77 801.12" y="114.5" font-size="22.4" font-weight="bold" fill="#000" stroke="#000" stroke-width="2.0" stroke-linejoin="round">BRUKER</text>
<g transform="scale(1,0.92)">
<text class="mono" x="962.5" y="195.33" font-size="9.1" fill="#707070" style="white-space:pre">Current Data Parameters</text>
<text class="mono" x="962.5" y="205.52" font-size="9.1" fill="#707070" style="white-space:pre">NAME     221006-71-9P2692888</text>
<text class="mono" x="962.5" y="215.71" font-size="9.1" fill="#707070" style="white-space:pre">EXPNO                 1</text>
<text class="mono" x="962.5" y="225.91" font-size="9.1" fill="#707070" style="white-space:pre">PROCNO                1</text>
<text class="mono" x="962.5" y="246.29" font-size="9.1" fill="#707070" style="white-space:pre">F2 - Acquisition Parameters</text>
<text class="mono" x="962.5" y="256.49" font-size="9.1" fill="#707070" style="white-space:pre">Date_          20230718</text>
<text class="mono" x="962.5" y="266.68" font-size="9.1" fill="#707070" style="white-space:pre">Time              14.34 h</text>
<text class="mono" x="962.5" y="276.87" font-size="9.1" fill="#707070" style="white-space:pre">INSTRUM  Avance neo 400</text>
<text class="mono" x="962.5" y="287.07" font-size="9.1" fill="#707070" style="white-space:pre">PROBHD   Z163739_0670 (</text>
<text class="mono" x="962.5" y="297.26" font-size="9.1" fill="#707070" style="white-space:pre">PULPROG            zg30</text>
<text class="mono" x="962.5" y="307.45" font-size="9.1" fill="#707070" style="white-space:pre">TD                65536</text>
<text class="mono" x="962.5" y="317.65" font-size="9.1" fill="#707070" style="white-space:pre">SOLVENT            DMSO</text>
<text class="mono" x="962.5" y="327.84" font-size="9.1" fill="#707070" style="white-space:pre">NS                    4</text>
<text class="mono" x="962.5" y="338.03" font-size="9.1" fill="#707070" style="white-space:pre">DS                    2</text>
<text class="mono" x="962.5" y="348.23" font-size="9.1" fill="#707070" style="white-space:pre">SWH            8196.722 Hz</text>
<text class="mono" x="962.5" y="358.42" font-size="9.1" fill="#707070" style="white-space:pre">FIDRES         0.250144 Hz</text>
<text class="mono" x="962.5" y="368.62" font-size="9.1" fill="#707070" style="white-space:pre">AQ            3.9976959 sec</text>
<text class="mono" x="962.5" y="378.81" font-size="9.1" fill="#707070" style="white-space:pre">RG                 90.5</text>
<text class="mono" x="962.5" y="389.00" font-size="9.1" fill="#707070" style="white-space:pre">DW               61.000 usec</text>
<text class="mono" x="962.5" y="399.20" font-size="9.1" fill="#707070" style="white-space:pre">DE                13.89 usec</text>
<text class="mono" x="962.5" y="409.39" font-size="9.1" fill="#707070" style="white-space:pre">TE                296.3 K</text>
<text class="mono" x="962.5" y="419.58" font-size="9.1" fill="#707070" style="white-space:pre">D1           1.00000000 sec</text>
<text class="mono" x="962.5" y="429.78" font-size="9.1" fill="#707070" style="white-space:pre">TD0                   1</text>
<text class="mono" x="962.5" y="439.97" font-size="9.1" fill="#707070" style="white-space:pre">SFO1        400.1324708 MHz</text>
<text class="mono" x="962.5" y="450.16" font-size="9.1" fill="#707070" style="white-space:pre">NUC1                 1H</text>
<text class="mono" x="962.5" y="460.36" font-size="9.1" fill="#707070" style="white-space:pre">P0                 2.67 usec</text>
<text class="mono" x="962.5" y="470.55" font-size="9.1" fill="#707070" style="white-space:pre">P1                 8.00 usec</text>
<text class="mono" x="962.5" y="480.74" font-size="9.1" fill="#707070" style="white-space:pre">PLW1        22.77899933 W</text>
<text class="mono" x="962.5" y="501.13" font-size="9.1" fill="#707070" style="white-space:pre">F2 - Processing parameters</text>
<text class="mono" x="962.5" y="511.32" font-size="9.1" fill="#707070" style="white-space:pre">SI                65536</text>
<text class="mono" x="962.5" y="521.52" font-size="9.1" fill="#707070" style="white-space:pre">SF          400.1300000 MHz</text>
<text class="mono" x="962.5" y="531.71" font-size="9.1" fill="#707070" style="white-space:pre">WDW                  EM</text>
<text class="mono" x="962.5" y="541.90" font-size="9.1" fill="#707070" style="white-space:pre">SSB                   0</text>
<text class="mono" x="962.5" y="552.10" font-size="9.1" fill="#707070" style="white-space:pre">LB                 0.30 Hz</text>
<text class="mono" x="962.5" y="562.29" font-size="9.1" fill="#707070" style="white-space:pre">GB                    0</text>
<text class="mono" x="962.5" y="572.48" font-size="9.1" fill="#707070" style="white-space:pre">PC                 1.00</text>
</g>
</svg>
<div class="mb"><span style="left:508.87px;top:343.88px;font-size:58.43px;transform:scaleX(0.768)">M</span><span style="left:545.44px;top:350.23px;font-size:50.92px;transform:scaleX(0.799)">o</span><span style="left:567.20px;top:345.68px;font-size:56.31px;transform:scaleX(0.909)">l</span><span style="left:576.71px;top:343.75px;font-size:58.58px;transform:scaleX(0.613)">B</span><span style="left:600.85px;top:350.08px;font-size:51.11px;transform:scaleX(0.830)">e</span><span style="left:624.55px;top:349.96px;font-size:51.25px;transform:scaleX(0.841)">s</span><span style="left:644.52px;top:342.53px;font-size:60.02px;transform:scaleX(1.024)">t</span></div>
</body></html>
